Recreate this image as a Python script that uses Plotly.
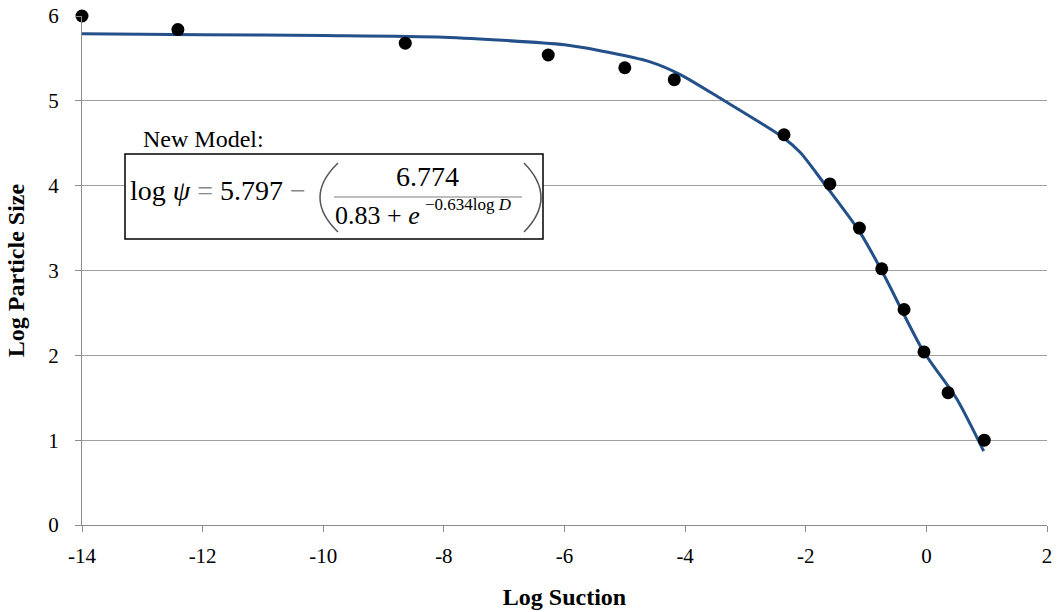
import plotly.graph_objects as go

obs_x = [-14.0, -12.41, -8.64, -6.27, -5.0, -4.18, -2.36, -1.60, -1.11, -0.74, -0.37, -0.04, 0.36, 0.96]
obs_y = [6.0, 5.84, 5.68, 5.54, 5.39, 5.25, 4.60, 4.02, 3.50, 3.02, 2.54, 2.04, 1.56, 1.00]

# Model curve
fit_x = [-14.0, -12.0, -10.0, -8.0, -6.0, -5.41, -4.58, -4.08, -3.37, -2.38, -2.09, -1.71, -1.10, -0.72, -0.06, 0.5, 0.95]
fit_y = [5.79, 5.78, 5.77, 5.75, 5.66, 5.59, 5.46, 5.31, 5.01, 4.57, 4.39, 4.04, 3.45, 2.97, 2.06, 1.49, 0.87]

x_ticks = [-14, -12, -10, -8, -6, -4, -2, 0, 2]
y_ticks = [0, 1, 2, 3, 4, 5, 6]

W, H = 1057, 612
L, R, T, B = 82, 1047, 16, 525
FONT = "Liberation Serif"

def px(x):
    return (x - L) / (R - L)

def py(y):
    return (B - y) / (B - T)

fig = go.Figure()
fig.add_trace(go.Scatter(x=fit_x, y=fit_y, mode="lines",
                         line=dict(color="#24508A", width=3, shape="spline", smoothing=0.7),
                         showlegend=False, hoverinfo="skip"))
fig.add_trace(go.Scatter(x=obs_x, y=obs_y, mode="markers",
                         marker=dict(color="black", size=13),
                         cliponaxis=False, showlegend=False))

fig.update_layout(
    width=W, height=H,
    margin=dict(l=L, r=W - R, t=T, b=H - B),
    paper_bgcolor="white", plot_bgcolor="white",
    font=dict(family=FONT, color="black", size=21),
    xaxis=dict(range=[-14, 2], tickvals=x_ticks, ticktext=[str(v) for v in x_ticks],
               automargin=False,
               showgrid=False, zeroline=False, showline=True, linecolor="#8C8C8C", linewidth=1,
               ticks="outside", ticklen=6, tickcolor="#8C8C8C", ticklabelstandoff=6,
               title=dict(text="<b>Log Suction</b>", font=dict(size=24, family=FONT), standoff=20)),
    yaxis=dict(range=[0, 6], tickvals=y_ticks, ticktext=[str(v) for v in y_ticks],
               automargin=False,
               showgrid=True, gridcolor="#A0A0A0", gridwidth=1, zeroline=False,
               showline=True, linecolor="#8C8C8C", linewidth=1,
               ticks="outside", ticklen=6, tickcolor="#8C8C8C", ticklabelstandoff=12,
               title=dict(text="<b>Log Particle Size</b>", font=dict(size=24, family=FONT), standoff=16)),
)

shapes = []
# equation box
shapes.append(dict(type="rect", xref="paper", yref="paper",
                   x0=px(125), x1=px(543), y0=py(239), y1=py(154),
                   line=dict(color="black", width=1.5), fillcolor="white", layer="above"))
# fraction bar
shapes.append(dict(type="line", xref="paper", yref="paper",
                   x0=px(334), x1=px(522), y0=py(197), y1=py(197),
                   line=dict(color="#7F7F7F", width=1.2), layer="above"))
# parentheses
def paren(x_end, x_mid, y0, y1):
    return dict(type="path", xref="paper", yref="paper",
                path=f"M {px(x_end)},{py(y0)} Q {px(x_mid)},{py((y0 + y1) / 2)} {px(x_end)},{py(y1)}",
                line=dict(color="#555555", width=1.5), layer="above")
shapes.append(paren(338, 302, 163, 232))
shapes.append(paren(524, 558, 163, 232))
fig.update_layout(shapes=shapes)

ann = [
    dict(text="New Model:", x=px(141), y=py(139), xanchor="left", yanchor="middle",
         font=dict(size=24)),
    dict(text="log <i>ψ</i> <span style='color:#888'>=</span> 5.797 <span style='color:#888'>−</span>",
         x=px(128), y=py(190), xanchor="left", yanchor="middle", font=dict(size=28)),
    dict(text="6.774", x=px(427), y=py(176), xanchor="center", yanchor="middle", font=dict(size=28)),
    dict(text="0.83 + <i>e</i>", x=px(333), y=py(215), xanchor="left", yanchor="middle",
         font=dict(size=26)),
    dict(text="−0.634log <i>D</i>", x=px(423), y=py(204), xanchor="left", yanchor="middle",
         font=dict(size=17)),
]
for a in ann:
    a.update(xref="paper", yref="paper", showarrow=False)
    a.setdefault("font", {})
    a["font"]["family"] = FONT
    a["font"]["color"] = "black"
fig.update_layout(annotations=ann)

fig.write_html("out.html", config={"displayModeBar": False},
               post_script="document.body.style.margin='0';document.body.style.overflow='hidden';")
